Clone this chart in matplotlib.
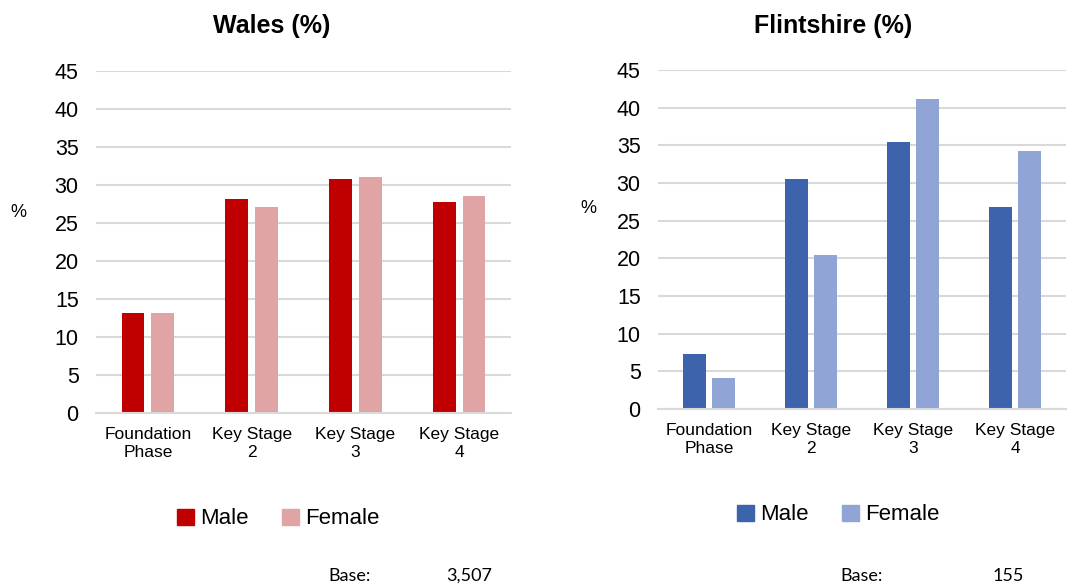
import matplotlib
matplotlib.use("Agg")
import matplotlib.pyplot as plt
import numpy as np
from matplotlib.patches import Patch

categories = ["Foundation\nPhase", "Key Stage\n2", "Key Stage\n3", "Key Stage\n4"]
wales_male = [13.2, 28.1, 30.8, 27.8]
wales_female = [13.1, 27.1, 31.1, 28.6]
flint_male = [7.3, 30.5, 35.4, 26.8]
flint_female = [4.1, 20.5, 41.1, 34.2]
yticks = [0, 5, 10, 15, 20, 25, 30, 35, 40, 45]
wales_base = "3,507"
flint_base = "155"

plt.rcParams['font.family'] = ['Liberation Sans', 'DejaVu Sans']

W, H = 1069, 587
fig = plt.figure(figsize=(W / 100, H / 100), dpi=100)

def axrect(x0, y0, x1, y1):
    return [x0 / W, 1 - y1 / H, (x1 - x0) / W, (y1 - y0) / H]

panels = [
    dict(rect=axrect(96, 71, 511, 413), male=wales_male, female=wales_female,
         cm="#C00000", cf="#E0A4A4", title="Wales (%)", tx=272,
         pct=(18, 213), leg_x=178, leg_y=519, base_x=328, base_vx=446, base=wales_base),
    dict(rect=axrect(658, 70, 1066, 409), male=flint_male, female=flint_female,
         cm="#3D63AC", cf="#90A5D5", title="Flintshire (%)", tx=833,
         pct=(588, 208), leg_x=738, leg_y=515, base_x=840, base_vx=993, base=flint_base),
]

base_font = ['Liberation Sans Narrow', 'Lato', 'DejaVu Sans']

x = np.arange(len(categories))
bw = 0.22
off = 0.143
for p in panels:
    ax = fig.add_axes(p["rect"])
    ax.bar(x - off, p["male"], width=bw, color=p["cm"], zorder=3)
    ax.bar(x + off, p["female"], width=bw, color=p["cf"], zorder=3)
    ax.set_xlim(-0.5, len(categories) - 0.5)
    ax.set_ylim(0, 45)
    ax.set_yticks(yticks)
    ax.set_yticklabels([str(v) for v in yticks], fontsize=15.5)
    ax.set_xticks(x)
    ax.set_xticklabels(categories, fontsize=12.5, linespacing=1.3)
    ax.tick_params(axis='both', length=0)
    ax.tick_params(axis='y', pad=12.5)
    ax.tick_params(axis='x', pad=10)
    ax.grid(axis='y', color="#D9D9D9", linewidth=1.5, zorder=0)
    ax.set_axisbelow(True)
    for s in ["top", "right", "left"]:
        ax.spines[s].set_visible(False)
    ax.spines["bottom"].set_color("#D9D9D9")
    ax.spines["bottom"].set_linewidth(1.5)
    ax.spines["bottom"].set_zorder(4)
    fig.text(p["tx"] / W, 1 - 26.5 / H, p["title"], fontsize=18, fontweight='bold',
             ha='center', va='center')
    fig.text(p["pct"][0] / W, 1 - p["pct"][1] / H, "%", fontsize=13, ha='center', va='center')
    handles = [Patch(color=p["cm"], label="Male"), Patch(color=p["cf"], label="Female")]
    fig.legend(handles=handles, loc='center left',
               bbox_to_anchor=((p["leg_x"] - 10) / W, 1 - p["leg_y"] / H),
               ncol=2, frameon=False, fontsize=16, handlelength=0.75, handleheight=0.75,
               handletextpad=0.3, columnspacing=1.5, borderaxespad=0)
    fig.text(p["base_x"] / W, 1 - 576 / H, "Base:", fontsize=13, family=base_font,
             ha='left', va='center')
    fig.text(p["base_vx"] / W, 1 - 576 / H, p["base"], fontsize=13, family=base_font,
             ha='left', va='center')

fig.savefig("out.png", dpi=100)
